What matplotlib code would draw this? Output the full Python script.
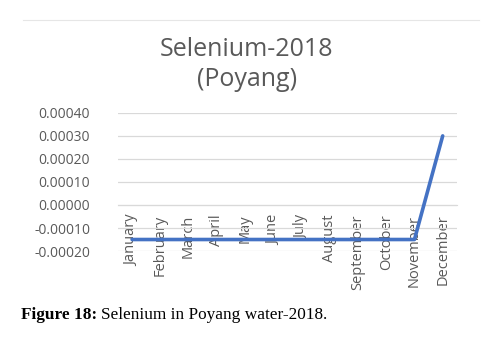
import matplotlib
matplotlib.use("Agg")
import matplotlib.pyplot as plt
from matplotlib.ticker import FormatStrFormatter
from matplotlib.lines import Line2D

plt.rcParams['axes.unicode_minus'] = False

# --- Data ---
months = ['January', 'February', 'March', 'April', 'May', 'June', 'July',
          'August', 'September', 'October', 'November', 'December']
selenium = [-0.00015, -0.00015, -0.00015, -0.00015, -0.00015, -0.00015,
            -0.00015, -0.00015, -0.00015, -0.00015, -0.00015, 0.00030]
yticks = [-0.0002, -0.0001, 0.0, 0.0001, 0.0002, 0.0003, 0.0004]

text_col = '#595959'
grid_col = '#d9d9d9'

fig = plt.figure(figsize=(5.02, 3.42), dpi=100)
ax = fig.add_axes([0.235, 0.266, 0.675, 0.404])

x = list(range(len(months)))
ax.plot(x, selenium, color='#4472C4', lw=2.6, solid_capstyle='round', zorder=3)

ax.set_xlim(-0.5, len(months) - 0.5)
ax.set_ylim(-0.0002, 0.0004)
ax.set_yticks(yticks)
ax.yaxis.set_major_formatter(FormatStrFormatter('%.5f'))
ax.grid(axis='y', color=grid_col, lw=0.9)
ax.set_axisbelow(True)

# category axis crosses at zero, like the spreadsheet
ax.spines['bottom'].set_position(('data', 0))
ax.spines['bottom'].set_color(grid_col)
for s in ['top', 'right', 'left']:
    ax.spines[s].set_visible(False)
ax.set_xticks(x)
ax.set_xticklabels(months, rotation=90, fontsize=10.5, color=text_col,
                   fontfamily='Open Sans')
ax.tick_params(axis='x', length=0, pad=7)
ax.tick_params(axis='y', length=0, pad=20, labelsize=10, labelcolor=text_col)
for lab in ax.get_yticklabels():
    lab.set_fontfamily('Open Sans')

fig.text(0.492, 0.812, 'Selenium-2018\n(Poyang)', ha='center', va='center',
         fontsize=18, color=text_col, fontfamily='Open Sans', linespacing=1.25)

# thin chart border line at top
fig.add_artist(Line2D([0.046, 0.954], [0.941, 0.941], color='#e6e6e6', lw=0.8))

# caption: bold label followed by plain text
cap1 = fig.text(0.042, 0.08, 'Figure 18:', fontsize=12.4, fontweight='bold',
                fontfamily='Liberation Serif', ha='left', va='center')
fig.canvas.draw()
bb = cap1.get_window_extent()
fig.text((bb.x1 + 4) / fig.bbox.width, 0.08, 'Selenium in Poyang water-2018.',
         fontsize=12.4, fontfamily='Liberation Serif', ha='left', va='center')

fig.savefig('out.png', dpi=100)
